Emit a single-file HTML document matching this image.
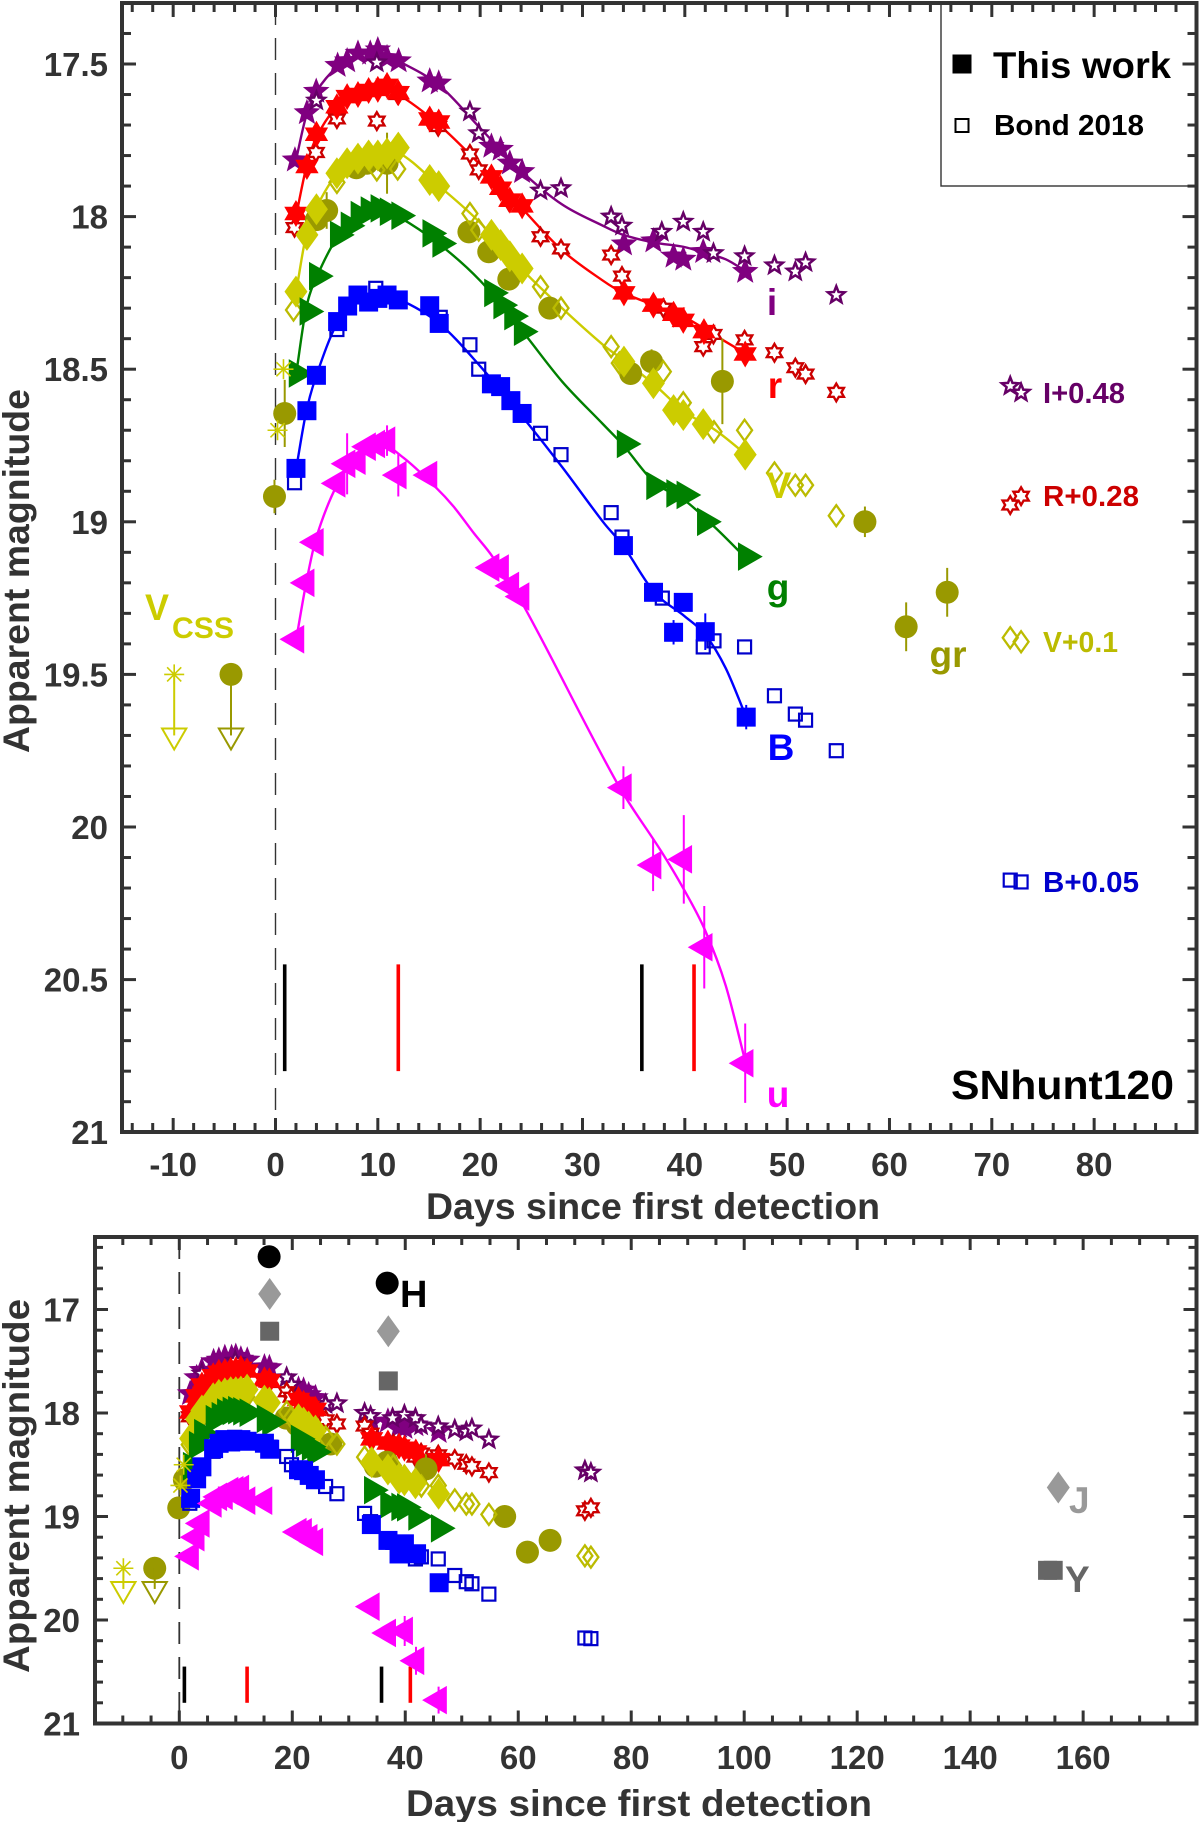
<!DOCTYPE html>
<html lang="en">
<head>
<meta charset="utf-8">
<title>SNhunt120 light curves</title>
<style>
html,body{margin:0;padding:0;background:#fff;}
svg{display:block;}
text{font-family:"Liberation Sans",sans-serif;font-weight:bold;}
</style>
</head>
<body>
<svg id="figure" xmlns="http://www.w3.org/2000/svg" width="1200" height="1822" viewBox="0 0 1200 1822">
  <rect x="0" y="0" width="1200" height="1822" fill="#ffffff"/>
  <g id="top-panel"></g>
  <g id="bottom-panel"></g>

  <g>
    <rect x="941" y="3" width="255" height="183" fill="none" stroke="#333" stroke-width="1.4"/>
    <rect x="952.5" y="54.5" width="19" height="19" fill="#000"/>
    <text x="993" y="78" font-size="37" textLength="178" lengthAdjust="spacingAndGlyphs" fill="#000">This work</text>
    <rect x="955.5" y="119" width="13" height="13" fill="none" stroke="#000" stroke-width="2"/>
    <text x="994" y="135" font-size="29" textLength="150" lengthAdjust="spacingAndGlyphs" fill="#000">Bond 2018</text>

    <text x="772" y="315" font-size="37" text-anchor="middle" fill="#800080">i</text>
    <text x="775" y="398" font-size="37" text-anchor="middle" fill="#ff0000">r</text>
    <text x="779" y="498" font-size="37" text-anchor="middle" fill="#cccc00">V</text>
    <text x="778" y="600" font-size="37" text-anchor="middle" fill="#008000">g</text>
    <text x="781" y="760" font-size="37" text-anchor="middle" fill="#0000ff">B</text>
    <text x="778" y="1107" font-size="37" text-anchor="middle" fill="#ff00ff">u</text>
    <text x="948" y="667" font-size="37" text-anchor="middle" fill="#999900">gr</text>

    <text x="1043" y="403" font-size="29" textLength="82" lengthAdjust="spacingAndGlyphs" fill="#660066">I+0.48</text>
    <text x="1043" y="506" font-size="29" textLength="96" lengthAdjust="spacingAndGlyphs" fill="#cc0000">R+0.28</text>
    <text x="1043" y="652" font-size="29" textLength="75" lengthAdjust="spacingAndGlyphs" fill="#bbbb00">V+0.1</text>
    <text x="1043" y="892" font-size="29" textLength="96" lengthAdjust="spacingAndGlyphs" fill="#0000cc">B+0.05</text>

    <text x="951" y="1099" font-size="41" textLength="223" lengthAdjust="spacingAndGlyphs" fill="#000">SNhunt120</text>

    <text x="145" y="620" font-size="37" textLength="24" lengthAdjust="spacingAndGlyphs" fill="#cccc00">V</text>
    <text x="172" y="638" font-size="30" textLength="62" lengthAdjust="spacingAndGlyphs" fill="#cccc00">CSS</text>

    <text x="653" y="1219" font-size="37" text-anchor="middle" textLength="454" lengthAdjust="spacingAndGlyphs" fill="#333">Days since first detection</text>
    <text transform="translate(29,571) rotate(-90)" font-size="37" text-anchor="middle" textLength="364" lengthAdjust="spacingAndGlyphs" fill="#333">Apparent magnitude</text>
  </g>

  <g>
    <text x="400" y="1307" font-size="38" fill="#000">H</text>
    <text x="1069" y="1513" font-size="37" fill="#999999">J</text>
    <text x="1065" y="1592" font-size="37" fill="#666666">Y</text>
    <text x="639" y="1816" font-size="37" text-anchor="middle" textLength="466" lengthAdjust="spacingAndGlyphs" fill="#333">Days since first detection</text>
    <text transform="translate(29,1486) rotate(-90)" font-size="37" text-anchor="middle" textLength="374" lengthAdjust="spacingAndGlyphs" fill="#333">Apparent magnitude</text>
  </g>
</svg>

<script>
// ---------- tick labels ----------
const topXTicks = [-10, 0, 10, 20, 30, 40, 50, 60, 70, 80];
const topYTicks = ["17.5", "18", "18.5", "19", "19.5", "20", "20.5", "21"];
const bottomXTicks = [0, 20, 40, 60, 80, 100, 120, 140, 160];
const bottomYTicks = ["17", "18", "19", "20", "21"];

// ---------- i band ----------
const iDays = [1.9, 3.07, 3.98, 6.07, 7, 8.06, 9.26, 10, 10.9, 12.03, 15.07, 15.95, 21.1, 22, 22.9, 24.1, 34.05, 36.93, 38.9, 39.85, 41.8, 45.9];
const iMags = [17.815, 17.66, 17.59, 17.505, 17.49, 17.465, 17.465, 17.454, 17.48, 17.49, 17.556, 17.563, 17.77, 17.78, 17.825, 17.853, 18.09, 18.08, 18.13, 18.14, 18.115, 18.18];
const iOpenDays = [4, 9.9, 19, 19.86, 25.9, 27.9, 32.8, 33.86, 37.75, 39.85, 41.8, 42.8, 45.84, 48.76, 50.8, 51.8, 54.8, 71.8, 72.86];
const iOpenMags = [17.62, 17.495, 17.656, 17.727, 17.915, 17.907, 18.0, 18.03, 18.05, 18.017, 18.05, 18.12, 18.13, 18.16, 18.18, 18.15, 18.257, 18.555, 18.577];
const iFitDays = [2, 3, 4, 6, 8, 10, 12, 16, 20, 24, 28, 32, 34, 37, 40, 42, 44, 46];
const iFitMags = [17.815, 17.67, 17.59, 17.51, 17.47, 17.46, 17.49, 17.57, 17.71, 17.85, 17.96, 18.03, 18.06, 18.085, 18.1, 18.12, 18.14, 18.18];

// ---------- r band ----------
const rDays = [2, 3.07, 4, 6, 7, 8.06, 9.1, 10, 10.9, 12, 15.07, 15.95, 21.1, 22, 22.9, 24.1, 34.05, 36.93, 38.9, 39.85, 41.87, 45.9];
const rMags = [17.99, 17.836, 17.73, 17.64, 17.607, 17.6, 17.587, 17.583, 17.57, 17.594, 17.68, 17.69, 17.87, 17.907, 17.946, 17.965, 18.25, 18.29, 18.32, 18.34, 18.377, 18.45];
const rOpenDays = [1.86, 3.95, 6, 9.9, 11.94, 15.9, 19, 19.86, 22.8, 25.9, 27.9, 32.8, 33.86, 37.9, 41.8, 42.8, 45.84, 48.76, 50.8, 51.8, 54.8, 71.8, 72.86];
const rOpenMags = [18.036, 17.79, 17.68, 17.687, 17.6, 17.705, 17.795, 17.847, 17.95, 18.066, 18.106, 18.126, 18.195, 18.3, 18.426, 18.386, 18.404, 18.446, 18.495, 18.516, 18.576, 18.945, 18.916];
const rFitDays = [2, 3, 4, 6, 8, 10, 12, 16, 20, 24, 28, 32, 34, 37, 40, 43, 46];
const rFitMags = [18.0, 17.84, 17.74, 17.64, 17.6, 17.58, 17.6, 17.7, 17.83, 17.97, 18.11, 18.21, 18.25, 18.29, 18.33, 18.39, 18.45];

// ---------- V band ----------
const vDays = [2, 3.07, 4, 6, 7, 8.06, 9.1, 10, 10.9, 12, 15.07, 15.95, 21.1, 22, 22.9, 24.1, 34.05, 36.93, 38.9, 39.85, 41.8, 45.9];
const vMags = [18.246, 18.06, 17.976, 17.858, 17.825, 17.81, 17.8, 17.8, 17.793, 17.774, 17.88, 17.9, 18.06, 18.093, 18.13, 18.17, 18.475, 18.546, 18.634, 18.65, 18.68, 18.78];
const vOpenDays = [1.76, 6, 9.9, 11.94, 19, 19.86, 25.9, 27.9, 32.8, 33.6, 37.9, 39.85, 42.85, 45.84, 48.76, 50.8, 51.8, 54.8, 71.8, 72.86];
const vOpenMags = [18.306, 17.888, 17.847, 17.844, 17.99, 18.044, 18.23, 18.3, 18.426, 18.48, 18.508, 18.61, 18.705, 18.7, 18.84, 18.88, 18.88, 18.98, 19.38, 19.393];
const vFitDays = [2, 3, 4, 6, 8, 10, 12, 16, 20, 24, 28, 32, 34, 37, 40, 43, 46];
const vFitMags = [18.25, 18.06, 17.97, 17.86, 17.81, 17.795, 17.79, 17.9, 18.02, 18.17, 18.3, 18.42, 18.47, 18.55, 18.64, 18.7, 18.78];

// ---------- g band ----------
const gDays = [2.1, 3.16, 4.08, 6.13, 7.18, 8.15, 9.13, 10.1, 11, 12.13, 15.17, 16.14, 21.2, 22.1, 23.16, 24.1, 34.16, 37.04, 39, 40, 42, 46];
const gMags = [18.514, 18.311, 18.195, 18.06, 18.03, 17.995, 17.98, 17.973, 17.984, 17.997, 18.055, 18.088, 18.25, 18.29, 18.326, 18.377, 18.745, 18.882, 18.907, 18.912, 19.0, 19.114];
const gFitDays = [2, 3, 4, 6, 8, 10, 12, 16, 20, 24, 28, 32, 34, 37, 40, 43, 46];
const gFitMags = [18.52, 18.3, 18.2, 18.07, 18.0, 17.975, 18.0, 18.09, 18.21, 18.37, 18.54, 18.68, 18.75, 18.87, 18.93, 19.02, 19.12];

// ---------- B band ----------
const bDays = [2, 3.07, 4, 6.07, 7.05, 8.06, 9.1, 10, 10.9, 12, 15.07, 16, 21.1, 22, 23, 24.1, 34, 36.94, 38.9, 39.85, 42, 46];
const bMags = [18.825, 18.636, 18.52, 18.344, 18.293, 18.257, 18.28, 18.268, 18.257, 18.273, 18.292, 18.35, 18.548, 18.557, 18.603, 18.645, 19.078, 19.231, 19.362, 19.264, 19.36, 19.64];
const bErrs = [0, 0, 0, 0, 0, 0, 0, 0, 0, 0, 0, 0, 0, 0, 0, 0, 0, 0, 0.04, 0.03, 0.06, 0.04];
const bOpenDays = [1.86, 6, 9.8, 16.1, 19, 19.86, 25.9, 27.9, 32.8, 33.86, 37.8, 41.8, 42.85, 45.84, 48.76, 50.8, 51.8, 54.8, 71.8, 72.86];
const bOpenMags = [18.872, 18.37, 18.235, 18.33, 18.42, 18.5, 18.71, 18.78, 18.97, 19.05, 19.25, 19.41, 19.39, 19.41, 19.57, 19.63, 19.65, 19.75, 20.174, 20.18];
const bFitDays = [2, 3, 4, 6, 8, 10, 12, 16, 20, 24, 28, 32, 34, 37, 40, 42, 44, 46];
const bFitMags = [18.83, 18.64, 18.52, 18.35, 18.27, 18.26, 18.27, 18.35, 18.49, 18.65, 18.82, 19.0, 19.08, 19.23, 19.31, 19.37, 19.48, 19.64];

// ---------- u band ----------
const uDays = [2, 3, 3.9, 6.03, 7, 8, 9, 9.9, 10.9, 12, 15, 21.07, 22, 23, 24, 34, 36.9, 39.9, 41.9, 45.9];
const uMags = [19.385, 19.2, 19.067, 18.874, 18.81, 18.8, 18.754, 18.745, 18.734, 18.847, 18.847, 19.15, 19.153, 19.21, 19.245, 19.871, 20.125, 20.106, 20.394, 20.774];
const uErrs = [0, 0, 0, 0, 0.1, 0, 0, 0, 0.05, 0.07, 0, 0, 0, 0, 0, 0.07, 0.085, 0.145, 0.135, 0.13];
const uFitDays = [2, 3, 4, 6, 8, 10, 12.5, 15.6, 17.4, 19.4, 21.2, 24.3, 33.4, 37.7, 40, 42, 44, 46];
const uFitMags = [19.39, 19.2, 19.05, 18.88, 18.79, 18.74, 18.79, 18.885, 18.95, 19.038, 19.114, 19.278, 19.857, 20.08, 20.21, 20.34, 20.52, 20.78];

// ---------- gr band ----------
const grDays = [-0.1, 0.9, 4, 5, 7.9, 8.94, 10.9, 18.9, 20.84, 22.8, 26.8, 34.7, 36.75, 43.67, 57.6, 61.63, 65.64];
const grMags = [18.917, 18.645, 18.01, 17.98, 17.84, 17.825, 17.825, 18.05, 18.115, 18.205, 18.3, 18.514, 18.475, 18.54, 19.0, 19.344, 19.231];
const grErrs = [0.055, 0.11, 0, 0.06, 0, 0, 0.1, 0, 0, 0, 0, 0, 0.04, 0.14, 0.05, 0.08, 0.08];

// ---------- CSS V detections and upper limits ----------
const cssDays = [0.78, 0.2];
const cssMags = [18.5, 18.7];
const limitStarDay = [-9.9];
const limitCircleDay = [-4.35];
const limitStartMag = [19.5];
const limitEndMag = [19.7];

// ---------- spectral epochs ----------
const blackEpochs = [0.9, 35.8];
const redEpochs = [12, 40.9];
const epochTopMag = [20.45];
const epochBottomMag = [20.8];

// ---------- NIR (bottom panel) ----------
const hDays = [15.9, 36.8];
const hMags = [16.49, 16.745];
const jDays = [16, 37, 155.6];
const jMags = [16.85, 17.21, 18.72];
const yDays = [16, 37, 153.7, 154.7];
const yMags = [17.21, 17.69, 19.52, 19.52];

// ---------- drawing helpers ----------
const NS = 'http://www.w3.org/2000/svg';
const INK = '#333333';

function add(parent, tag, attrs) {
  const el = document.createElementNS(NS, tag);
  for (const k in attrs) el.setAttribute(k, attrs[k]);
  parent.appendChild(el);
  return el;
}
function starPts(cx, cy, n, R, r) {
  const pts = [];
  for (let k = 0; k < n * 2; k++) {
    const a = -Math.PI / 2 + k * Math.PI / n;
    const rad = k % 2 === 0 ? R : r;
    pts.push((cx + rad * Math.cos(a)).toFixed(2) + ',' + (cy + rad * Math.sin(a)).toFixed(2));
  }
  return pts.join(' ');
}
function triPts(cx, cy, angleDeg, R) {
  const pts = [];
  for (let k = 0; k < 3; k++) {
    const a = (angleDeg + k * 120) * Math.PI / 180;
    pts.push((cx + R * Math.cos(a)).toFixed(2) + ',' + (cy + R * Math.sin(a)).toFixed(2));
  }
  return pts.join(' ');
}
function marker(g, kind, cx, cy, color) {
  if (kind === 'pentaFilled') return add(g, 'polygon', {points: starPts(cx, cy, 5, 14, 6), fill: color});
  if (kind === 'pentaOpen') return add(g, 'polygon', {points: starPts(cx, cy, 5, 8.8, 3.8), fill: '#fff', stroke: color, 'stroke-width': 2.5});
  if (kind === 'hexFilled') return add(g, 'polygon', {points: starPts(cx, cy, 6, 13.5, 7.8), fill: color});
  if (kind === 'hexOpen') return add(g, 'polygon', {points: starPts(cx, cy, 6, 8.8, 5.1), fill: '#fff', stroke: color, 'stroke-width': 2.4});
  if (kind === 'diamondFilled') return add(g, 'polygon', {points: [cx, cy - 16, cx + 11.5, cy, cx, cy + 16, cx - 11.5, cy].join(' '), fill: color});
  if (kind === 'diamondOpen') return add(g, 'polygon', {points: [cx, cy - 10.5, cx + 7.5, cy, cx, cy + 10.5, cx - 7.5, cy].join(' '), fill: 'none', stroke: color, 'stroke-width': 2.3});
  if (kind === 'squareFilled') return add(g, 'rect', {x: cx - 9.5, y: cy - 9.5, width: 19, height: 19, fill: color});
  if (kind === 'squareOpen') return add(g, 'rect', {x: cx - 6.5, y: cy - 6.5, width: 13, height: 13, fill: 'none', stroke: color, 'stroke-width': 2.2});
  if (kind === 'triRight') return add(g, 'polygon', {points: triPts(cx, cy, 0, 16.5), fill: color});
  if (kind === 'triLeft') return add(g, 'polygon', {points: triPts(cx, cy, 180, 16.5), fill: color});
  if (kind === 'circle') return add(g, 'circle', {cx: cx, cy: cy, r: 11.5, fill: color});
  if (kind === 'asterisk') {
    const a = add(g, 'g', {stroke: color, 'stroke-width': 1.6, fill: 'none'});
    for (let k = 0; k < 4; k++) {
      const t = k * Math.PI / 4;
      add(a, 'line', {x1: cx - 10 * Math.cos(t), y1: cy - 10 * Math.sin(t), x2: cx + 10 * Math.cos(t), y2: cy + 10 * Math.sin(t)});
    }
    return a;
  }
}
function smoothPath(xs, ys) {
  const n = xs.length;
  const m = [];
  for (let i = 0; i < n; i++) {
    const a = Math.max(i - 1, 0), b = Math.min(i + 1, n - 1);
    m.push((ys[b] - ys[a]) / (xs[b] - xs[a]));
  }
  let d = 'M' + xs[0].toFixed(2) + ' ' + ys[0].toFixed(2);
  for (let i = 0; i < n - 1; i++) {
    const h = (xs[i + 1] - xs[i]) / 3;
    d += ' C' + (xs[i] + h).toFixed(2) + ' ' + (ys[i] + m[i] * h).toFixed(2) + ' ' +
         (xs[i + 1] - h).toFixed(2) + ' ' + (ys[i + 1] - m[i + 1] * h).toFixed(2) + ' ' +
         xs[i + 1].toFixed(2) + ' ' + ys[i + 1].toFixed(2);
  }
  return d;
}

function drawPoints(g, name, kind, color, days, mags, errs, xs, ys) {
  const sg = add(g, 'g', {});
  
  
  days.forEach(function (d, i) {
    const cx = xs(d), cy = ys(mags[i]);
    if (errs && errs[i] > 0) {
      const bar = add(sg, 'line', {x1: cx, x2: cx, y1: ys(mags[i] - errs[i]), y2: ys(mags[i] + errs[i]), stroke: color, 'stroke-width': 2});
      
      
    }
    const m = marker(sg, kind, cx, cy, color);
    
    
  });
}
function drawCurve(g, name, color, days, mags, xs, ys) {
  const p = add(g, 'path', {d: smoothPath(days.map(xs), mags.map(ys)), fill: 'none', stroke: color, 'stroke-width': 2.4});
  
  
}
function drawAxes(g, box, xs, ys, xMajors, xMinorStart, xMinorEnd, xMinorStep, yLabels, yMinorStart, yMinorEnd, yMinorStep, majLen, minLen, yLabelX, xLabelY) {
  const ticks = add(g, 'g', {stroke: INK, 'stroke-width': 3});
  
  
  for (let v = xMinorStart; v <= xMinorEnd + 1e-6; v += xMinorStep) {
    const len = xMajors.indexOf(Math.round(v)) >= 0 ? majLen : minLen;
    const x = xs(v);
    add(ticks, 'line', {x1: x, x2: x, y1: box.bottom, y2: box.bottom - len});
    add(ticks, 'line', {x1: x, x2: x, y1: box.top, y2: box.top + len});
  }
  const yMaj = yLabels.map(Number);
  for (let v = yMinorStart; v <= yMinorEnd + 1e-6; v += yMinorStep) {
    const rv = Math.round(v * 100) / 100;
    const len = yMaj.indexOf(rv) >= 0 ? majLen : minLen;
    const y = ys(rv);
    add(ticks, 'line', {x1: box.left, x2: box.left + len, y1: y, y2: y});
    add(ticks, 'line', {x1: box.right, x2: box.right - len, y1: y, y2: y});
  }
  xMajors.forEach(function (v) {
    const t = add(g, 'text', {x: xs(v), y: xLabelY, 'text-anchor': 'middle', 'font-size': 33, fill: INK});
    t.textContent = String(v);
    
    
  });
  yLabels.forEach(function (s) {
    const t = add(g, 'text', {x: yLabelX, y: ys(Number(s)) + 12, 'text-anchor': 'end', 'font-size': 33, fill: INK});
    t.textContent = s;
    
    
  });
  const frame = add(g, 'rect', {x: box.left, y: box.top, width: box.right - box.left, height: box.bottom - box.top, fill: 'none', stroke: INK, 'stroke-width': 4});
  
  
}
function drawCommon(g, box, xs, ys, withCurves) {
  const dash = add(g, 'line', {x1: xs(0), x2: xs(0), y1: box.top, y2: box.bottom, stroke: INK, 'stroke-width': withCurves ? 1.4 : 1.8, 'stroke-dasharray': '22 13'});
  
  

  blackEpochs.forEach(function (d) {
    const l = add(g, 'line', {x1: xs(d), x2: xs(d), y1: ys(epochTopMag[0]), y2: ys(epochBottomMag[0]), stroke: '#000', 'stroke-width': 3.6});
    
    
  });
  redEpochs.forEach(function (d) {
    const l = add(g, 'line', {x1: xs(d), x2: xs(d), y1: ys(epochTopMag[0]), y2: ys(epochBottomMag[0]), stroke: '#f00', 'stroke-width': 3.6});
    
    
  });

  if (withCurves) {
    drawCurve(g, 'i-band', '#800080', iFitDays, iFitMags, xs, ys);
    drawCurve(g, 'r-band', '#ff0000', rFitDays, rFitMags, xs, ys);
    drawCurve(g, 'v-band', '#cccc00', vFitDays, vFitMags, xs, ys);
    drawCurve(g, 'g-band', '#008000', gFitDays, gFitMags, xs, ys);
    drawCurve(g, 'b-band', '#0000ff', bFitDays, bFitMags, xs, ys);
    drawCurve(g, 'u-band', '#ff00ff', uFitDays, uFitMags, xs, ys);
  }

  drawPoints(g, 'i-band', 'pentaFilled', '#800080', iDays, iMags, null, xs, ys);
  drawPoints(g, 'i-bond', 'pentaOpen', '#660066', iOpenDays, iOpenMags, null, xs, ys);
  drawPoints(g, 'r-bond', 'hexOpen', '#cc0000', rOpenDays, rOpenMags, null, xs, ys);
  drawPoints(g, 'r-band', 'hexFilled', '#ff0000', rDays, rMags, null, xs, ys);
  drawPoints(g, 'gr-band', 'circle', '#999900', grDays, grMags, grErrs, xs, ys);
  drawPoints(g, 'v-bond', 'diamondOpen', '#bbbb00', vOpenDays, vOpenMags, null, xs, ys);
  drawPoints(g, 'v-band', 'diamondFilled', '#cccc00', vDays, vMags, null, xs, ys);
  drawPoints(g, 'g-band', 'triRight', '#008000', gDays, gMags, null, xs, ys);
  drawPoints(g, 'b-bond', 'squareOpen', '#0000cc', bOpenDays, bOpenMags, null, xs, ys);
  drawPoints(g, 'b-band', 'squareFilled', '#0000ff', bDays, bMags, bErrs, xs, ys);
  drawPoints(g, 'u-band', 'triLeft', '#ff00ff', uDays, uMags, uErrs, xs, ys);
  drawPoints(g, 'css-v', 'asterisk', '#cccc00', cssDays, cssMags, null, xs, ys);

  // upper limits
  const limStar = marker(g, 'asterisk', xs(limitStarDay[0]), ys(limitStartMag[0]), '#cccc00');
  
  
  const limLine1 = add(g, 'line', {x1: xs(limitStarDay[0]), x2: xs(limitStarDay[0]), y1: ys(limitStartMag[0]), y2: ys(limitEndMag[0]), stroke: '#cccc00', 'stroke-width': 2});
  
  
  const limTri1 = add(g, 'polygon', {points: triPts(xs(limitStarDay[0]), ys(limitEndMag[0]), 90, 14), fill: 'none', stroke: '#cccc00', 'stroke-width': 2});
  
  
  const limCircle = marker(g, 'circle', xs(limitCircleDay[0]), ys(limitStartMag[0]), '#999900');
  
  
  const limLine2 = add(g, 'line', {x1: xs(limitCircleDay[0]), x2: xs(limitCircleDay[0]), y1: ys(limitStartMag[0]), y2: ys(limitEndMag[0]), stroke: '#999900', 'stroke-width': 2});
  
  
  const limTri2 = add(g, 'polygon', {points: triPts(xs(limitCircleDay[0]), ys(limitEndMag[0]), 90, 14), fill: 'none', stroke: '#999900', 'stroke-width': 2});
  
  
}

// ---------- top panel ----------
const topBox = {left: 122, right: 1196.5, top: 3, bottom: 1132};
function topX(d) { return 275.5 + d * 10.233; }
function topY(m) { return 64 + (m - 17.5) * 305.2; }
const topG = document.getElementById('top-panel');
drawCommon(topG, topBox, topX, topY, true);
drawAxes(topG, topBox, topX, topY, topXTicks, -14, 88, 2, topYTicks, 17.3, 21, 0.1, 14, 9, 108, 1176);

// ---------- bottom panel ----------
const botBox = {left: 95, right: 1196.5, top: 1237, bottom: 1723.5};
function botX(d) { return 179.3 + d * 5.649; }
function botY(m) { return 1309.5 + (m - 17) * 103.5; }
const botG = document.getElementById('bottom-panel');
drawCommon(botG, botBox, botX, botY, false);
drawPoints(botG, 'h-band', 'circle', '#000000', hDays, hMags, null, botX, botY);
drawPoints(botG, 'j-band', 'diamondFilled', '#999999', jDays, jMags, null, botX, botY);
drawPoints(botG, 'y-band', 'squareFilled', '#666666', yDays, yMags, null, botX, botY);
drawAxes(botG, botBox, botX, botY, bottomXTicks, -10, 175, 5, bottomYTicks, 16.4, 21, 0.2, 13, 8, 80, 1769);
</script>
</body>
</html>
